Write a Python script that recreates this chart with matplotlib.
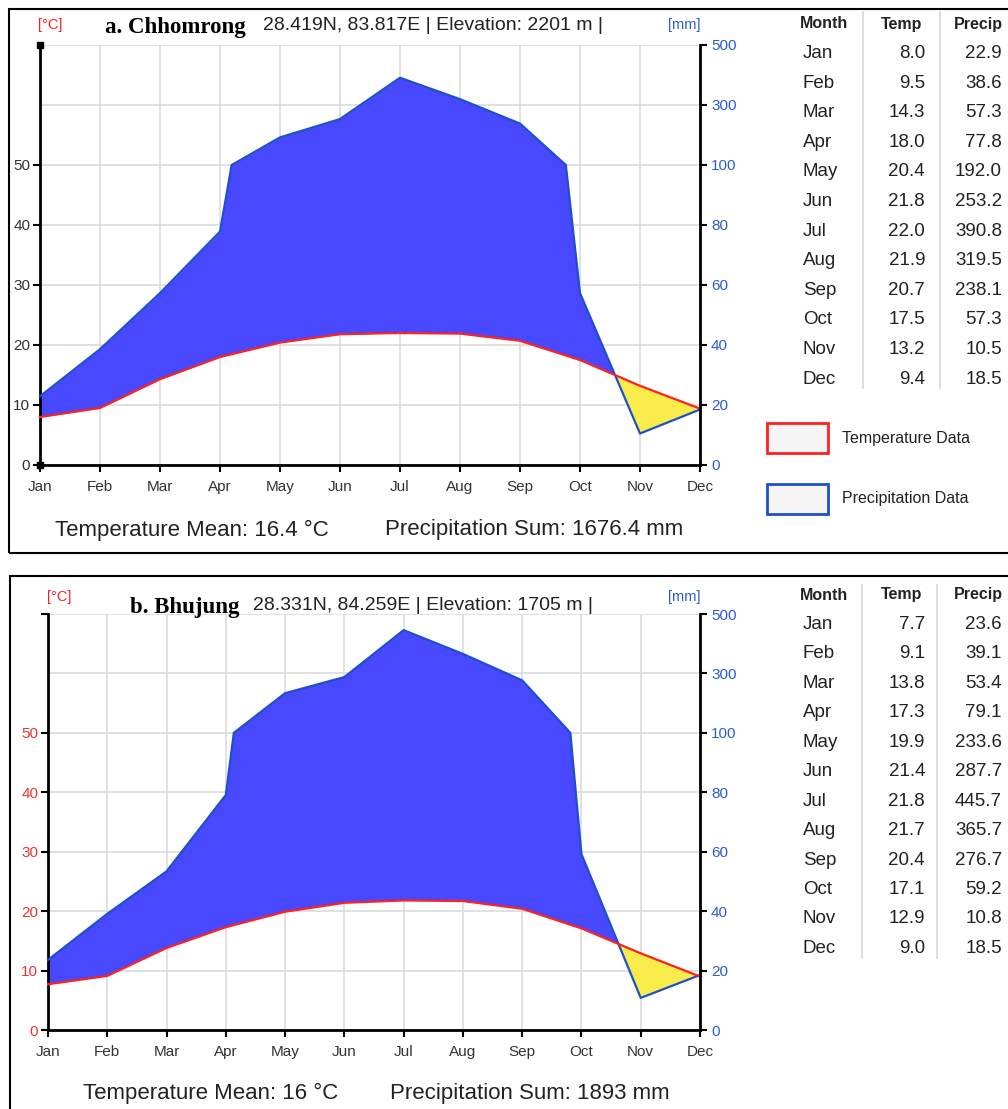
import numpy as np
import matplotlib
matplotlib.use('Agg')
import matplotlib.pyplot as plt
from matplotlib.patches import Rectangle
from matplotlib.lines import Line2D

plt.rcParams['font.family'] = ['Liberation Sans', 'DejaVu Sans']

W, H = 1008, 1109

months = ['Jan', 'Feb', 'Mar', 'Apr', 'May', 'Jun',
          'Jul', 'Aug', 'Sep', 'Oct', 'Nov', 'Dec']

# a. Chhomrong
temp_a = [8.0, 9.5, 14.3, 18.0, 20.4, 21.8, 22.0, 21.9, 20.7, 17.5, 13.2, 9.4]
precip_a = [22.9, 38.6, 57.3, 77.8, 192.0, 253.2, 390.8, 319.5, 238.1, 57.3, 10.5, 18.5]

# b. Bhujung
temp_b = [7.7, 9.1, 13.8, 17.3, 19.9, 21.4, 21.8, 21.7, 20.4, 17.1, 12.9, 9.0]
precip_b = [23.6, 39.1, 53.4, 79.1, 233.6, 287.7, 445.7, 365.7, 276.7, 59.2, 10.8, 18.5]

temp_ticks = [0, 10, 20, 30, 40, 50]
precip_tick_labels = ['0', '20', '40', '60', '80', '100', '300', '500']

BLUE_FILL = '#4848ff'
BLUE_LINE = '#1f4fcc'
BLUE_TEXT = '#2a5bd7'
RED = '#ff2020'
YELLOW = '#f8ec4a'
GRID = '#dcdcdc'
DARK = '#222222'


def box(x0, y0, x1, y1):
    return [x0 / W, 1 - y1 / H, (x1 - x0) / W, (y1 - y0) / H]


def ftext(x, y, s, **kw):
    kw.setdefault('va', 'center')
    fig.text(x / W, 1 - y / H, s, **kw)


def scale(p):
    # walter-lieth style: 2 mm/degC up to 100 mm, 20 mm/degC above
    p = np.asarray(p, dtype=float)
    return np.where(p <= 100, p / 2, 50 + (p - 100) / 20)


def draw_chart(rect, temp, precip, left_color, top_square):
    ax = fig.add_axes(rect)
    idx = np.arange(12)

    # add break points where precip passes 100 mm
    xs = []
    for i in range(11):
        xs.append(i)
        if (precip[i] - 100) * (precip[i + 1] - 100) < 0:
            xs.append(i + (100 - precip[i]) / (precip[i + 1] - precip[i]))
    xs.append(11)
    xs = np.array(xs)
    yp = scale(np.interp(xs, idx, precip))
    yt = np.interp(xs, idx, temp)

    for v in range(0, 71, 10):
        ax.axhline(v, color=GRID, lw=1.2, zorder=0)
    for i in idx:
        ax.axvline(i, color=GRID, lw=1.2, zorder=0)

    ax.fill_between(xs, yp, yt, where=yp >= yt, interpolate=True,
                    color=BLUE_FILL, lw=0, zorder=2)
    ax.fill_between(xs, yp, yt, where=yp <= yt, interpolate=True,
                    color=YELLOW, lw=0, zorder=2)
    ax.plot(xs, yp, color=BLUE_LINE, lw=1.6, zorder=3, clip_on=False)
    ax.plot(idx, temp, color=RED, lw=1.6, zorder=3, clip_on=False)

    ax.set_xlim(0, 11)
    ax.set_ylim(0, 70)
    ax.set_xticks(idx)
    ax.set_xticklabels(months, fontsize=11, color='#333333')
    if top_square:
        ax.set_yticks(temp_ticks)
        ax.set_yticklabels([str(t) for t in temp_ticks])
        ax.plot([0, 0], [0, 70], 's', color='black', ms=4.5, clip_on=False, zorder=5)
    else:
        ax.set_yticks(temp_ticks + [70])
        ax.set_yticklabels([str(t) for t in temp_ticks] + [''])
    ax.tick_params(axis='y', labelsize=11, labelcolor=left_color,
                   length=5, width=1.5, pad=2)
    ax.tick_params(axis='x', length=5, width=1.5, pad=6)
    for s in ['top', 'right']:
        ax.spines[s].set_visible(False)
    for s in ['left', 'bottom']:
        ax.spines[s].set_linewidth(2)
        ax.spines[s].set_color('black')

    ax2 = ax.twinx()
    ax2.set_ylim(0, 70)
    ax2.set_yticks(range(0, 71, 10))
    ax2.set_yticklabels(precip_tick_labels)
    ax2.tick_params(axis='y', labelsize=11, labelcolor=BLUE_TEXT,
                    length=5, width=1.5, pad=3)
    for s in ['top', 'left', 'bottom']:
        ax2.spines[s].set_visible(False)
    ax2.spines['right'].set_linewidth(2)
    return ax


def draw_table(x_sep1, x_sep2, y_head, dy, sep_top, sep_bot, temp, precip):
    ftext(824, y_head, 'Month', ha='center', fontsize=11.5, fontweight='bold', color=DARK)
    ftext(902, y_head, 'Temp', ha='center', fontsize=11.5, fontweight='bold', color=DARK)
    ftext(978, y_head, 'Precip', ha='center', fontsize=11.5, fontweight='bold', color=DARK)
    for i, m in enumerate(months):
        y = y_head + dy * (i + 1)
        ftext(803, y, m, ha='left', fontsize=13.5, color=DARK)
        ftext(925, y, f'{temp[i]:.1f}', ha='right', fontsize=13.5, color=DARK)
        ftext(1002, y, f'{precip[i]:.1f}', ha='right', fontsize=13.5, color=DARK)
    for xs in [x_sep1, x_sep2]:
        fig.add_artist(Line2D([xs / W, xs / W], [1 - sep_top / H, 1 - sep_bot / H],
                              color='#d8d8d8', lw=1.2))


fig = plt.figure(figsize=(W / 100, H / 100), dpi=100)

# panel borders
fig.add_artist(Rectangle((9 / W, 1 - 553 / H), 1.2, (553 - 9) / H, transform=fig.transFigure,
                         fill=False, ec='black', lw=1.5, clip_on=False))
fig.add_artist(Rectangle((10 / W, -0.2), 1.2, 0.2 + (H - 576) / H, transform=fig.transFigure,
                         fill=False, ec='black', lw=1.5, clip_on=False))

# ---- panel a
draw_chart(box(40, 45, 700, 465), temp_a, precip_a, '#333333', True)
ftext(38, 25, '[°C]', ha='left', fontsize=10.5, color=RED)
ftext(668, 25, '[mm]', ha='left', fontsize=10.5, color=BLUE_TEXT)
ftext(105, 28, 'a. Chhomrong', ha='left', fontsize=16.5, fontweight='bold',
      family=['Liberation Serif'], color='black')
ftext(263, 26, '28.419N, 83.817E | Elevation: 2201 m |', ha='left', fontsize=14, color=DARK)
ftext(55, 530, 'Temperature Mean: 16.4 °C', ha='left', fontsize=16, color=DARK)
ftext(385, 530, 'Precipitation Sum: 1676.4 mm', ha='left', fontsize=16, color=DARK)
draw_table(863, 940, 24, 29.6, 12, 388, temp_a, precip_a)

# legend
fig.add_artist(Rectangle((767 / W, 1 - 453 / H), 61 / W, 30 / H, transform=fig.transFigure,
                         fc='#f5f5f5', ec=RED, lw=2))
fig.add_artist(Rectangle((767 / W, 1 - 514 / H), 61 / W, 30 / H, transform=fig.transFigure,
                         fc='#f5f5f5', ec='#1f4fcc', lw=2))
ftext(842, 439, 'Temperature Data', ha='left', fontsize=11.5, color=DARK)
ftext(842, 499, 'Precipitation Data', ha='left', fontsize=11.5, color=DARK)

# ---- panel b
draw_chart(box(48, 614, 700, 1030), temp_b, precip_b, '#ee3333', False)
ftext(47, 597, '[°C]', ha='left', fontsize=10.5, color=RED)
ftext(668, 597, '[mm]', ha='left', fontsize=10.5, color=BLUE_TEXT)
ftext(130, 608, 'b. Bhujung', ha='left', fontsize=16.5, fontweight='bold',
      family=['Liberation Serif'], color='black')
ftext(253, 606, '28.331N, 84.259E | Elevation: 1705 m |', ha='left', fontsize=14, color=DARK)
ftext(83, 1093, 'Temperature Mean: 16 °C', ha='left', fontsize=16, color=DARK)
ftext(390, 1093, 'Precipitation Sum: 1893 mm', ha='left', fontsize=16, color=DARK)
draw_table(862, 937, 595, 29.45, 585, 958, temp_b, precip_b)

fig.savefig('out.png', dpi=100)
